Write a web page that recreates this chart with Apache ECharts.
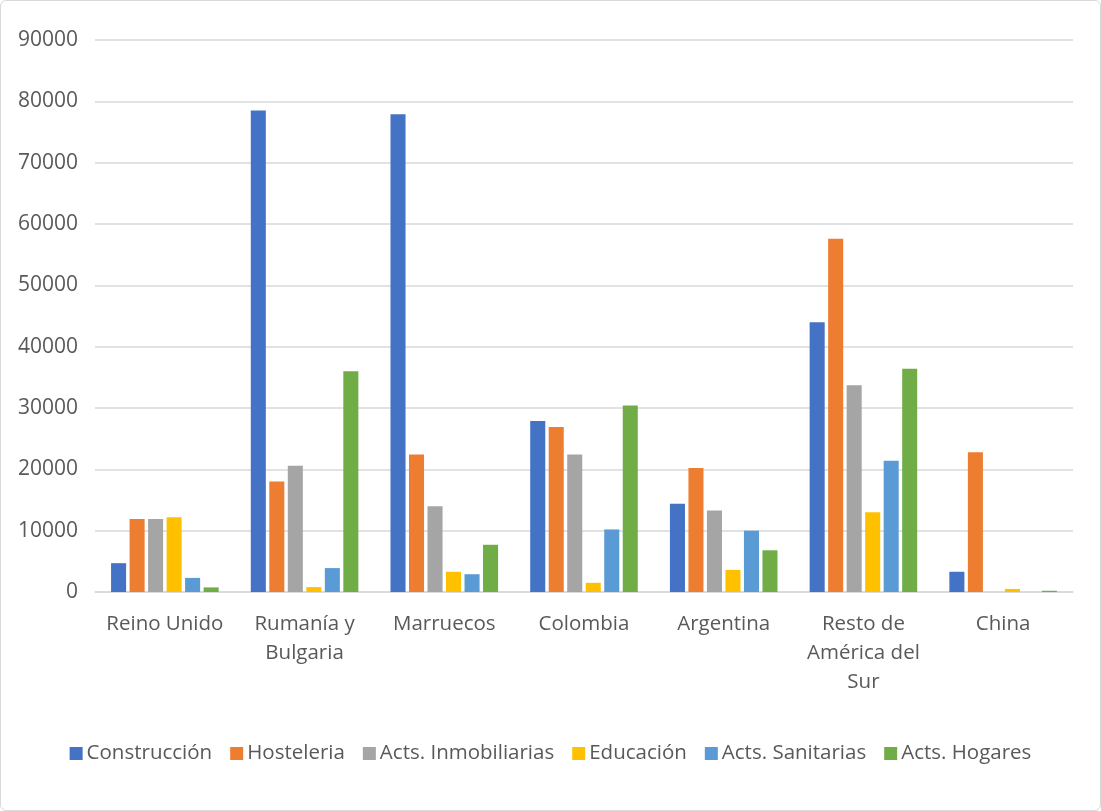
<!DOCTYPE html>
<html><head><meta charset="utf-8">
<script src="https://cdn.jsdelivr.net/npm/echarts@6/dist/echarts.min.js"></script>
<style>
html,body{margin:0;padding:0;background:#fff;}
#frame{position:absolute;left:0;top:0;width:1099px;height:809px;border:1px solid #d9d9d9;border-radius:6px;}
#chart{width:1101px;height:811px;position:absolute;left:0;top:0;}
</style></head>
<body><div id="frame"></div><div id="chart"></div>
<script>
const categories = ['Reino Unido','Rumanía y\nBulgaria','Marruecos','Colombia','Argentina','Resto de\nAmérica del\nSur','China'];
const seriesNames = ['Construcción','Hosteleria','Acts. Inmobiliarias','Educación','Acts. Sanitarias','Acts. Hogares'];
const construccion = [4700, 78500, 77900, 27900, 14400, 44000, 3300];
const hosteleria = [11900, 18000, 22400, 26900, 20200, 57600, 22800];
const inmobiliarias = [11900, 20600, 14000, 22400, 13300, 33700, 0];
const educacion = [12200, 800, 3300, 1500, 3600, 13000, 500];
const sanitarias = [2300, 3900, 2900, 10200, 10000, 21400, 0];
const hogares = [750, 36000, 7700, 30400, 6800, 36400, 200];
const colors = ['#4472c4','#ed7d31','#a5a5a5','#ffc000','#5b9bd5','#70ad47'];
const allData = [construccion, hosteleria, inmobiliarias, educacion, sanitarias, hogares];
const font = '"Open Sans", sans-serif';
const chart = echarts.init(document.getElementById('chart'));
chart.setOption({
  animation:false,
  color: colors,
  textStyle:{fontFamily:font},
  grid:{left:95,right:28,top:40,bottom:219},
  legend:{bottom:42,left:'center',itemWidth:13,itemHeight:13,itemGap:18,icon:'rect',
    textStyle:{fontSize:20.5,color:'#595959',fontFamily:font,padding:[0,0,0,-1]}},
  xAxis:{type:'category',data:categories,
    axisLine:{lineStyle:{color:'#d9d9d9',width:1.5}},axisTick:{show:false},
    axisLabel:{fontSize:20.5,color:'#595959',margin:18,lineHeight:29,interval:0,fontFamily:font}},
  yAxis:{type:'value',min:0,max:90000,interval:10000,
    axisLine:{show:false},axisTick:{show:false},
    splitLine:{lineStyle:{color:'#d9d9d9',width:1.5}},
    axisLabel:{fontSize:21,color:'#595959',margin:17,fontFamily:font,formatter:v=>String(v)}},
  series: seriesNames.map((n,i)=>({name:n,type:'bar',data:allData[i],
    barGap:'23%',barCategoryGap:'23%'}))
});
</script></body></html>
